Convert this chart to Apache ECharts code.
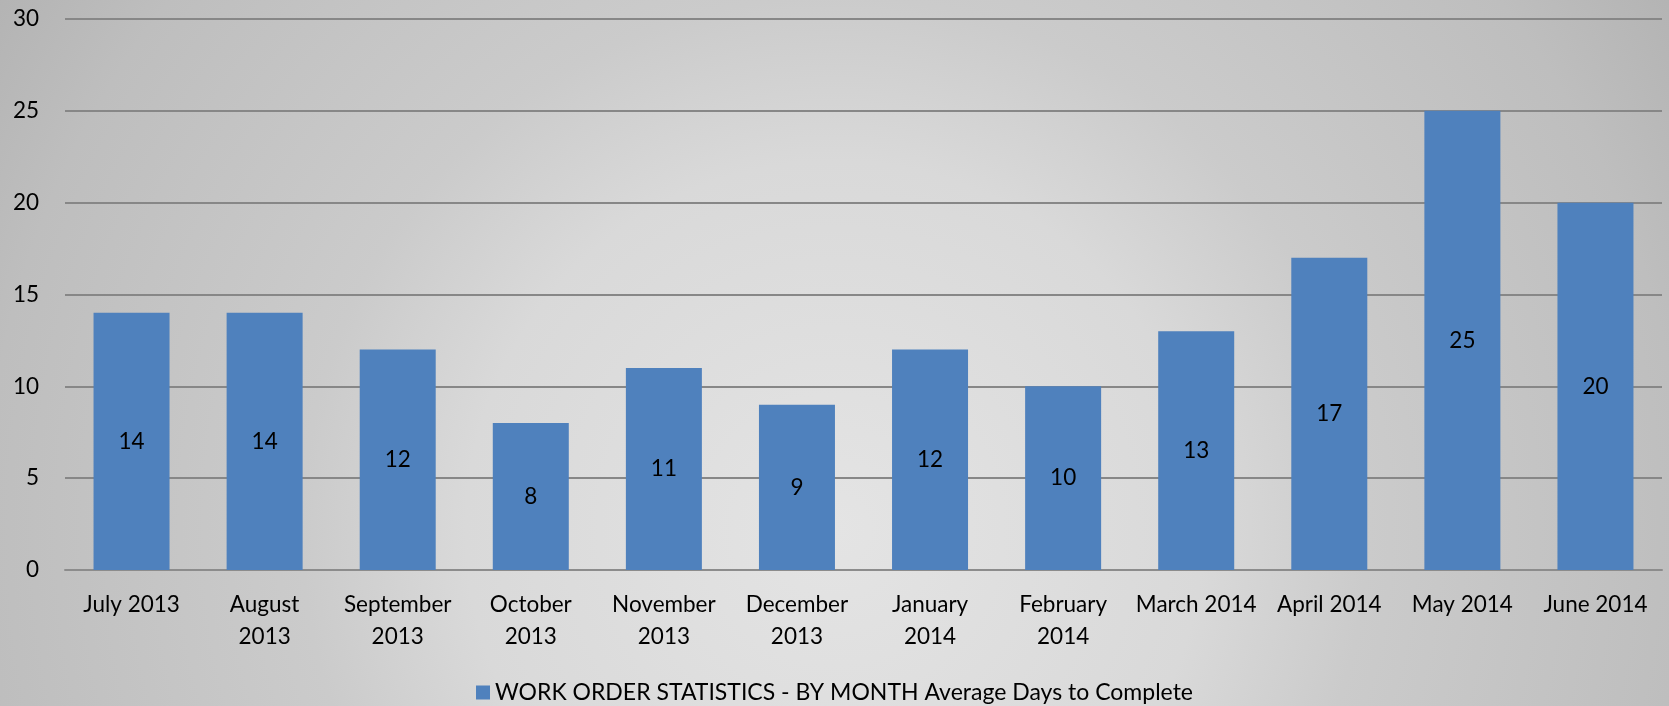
<!DOCTYPE html>
<html>
<head>
<meta charset="utf-8">
<title>Work Order Statistics</title>
<script src="https://cdn.jsdelivr.net/npm/echarts@6/dist/echarts.min.js"></script>
<style>
  html, body { margin: 0; padding: 0; }
  #chart { width: 1669px; height: 706px; }
</style>
</head>
<body>
<div id="chart"></div>
<script>
const months = [
  "July 2013", "August\n2013", "September\n2013", "October\n2013",
  "November\n2013", "December\n2013", "January\n2014", "February\n2014",
  "March 2014", "April 2014", "May 2014", "June 2014"
];
const avgDays = [14, 14, 12, 8, 11, 9, 12, 10, 13, 17, 25, 20];
const seriesName = "WORK ORDER STATISTICS - BY MONTH Average Days to Complete";

const FONT = "Lato, 'Open Sans', sans-serif";

const chart = echarts.init(document.getElementById("chart"));

chart.setOption({
  // light patch low in the middle, darker towards the corners
  backgroundColor: new echarts.graphic.RadialGradient(0.5, 0.75, 1.45, [
    { offset: 0, color: "#e4e4e4" },
    { offset: 0.36, color: "#d9d9d9" },
    { offset: 0.52, color: "#cbcbcb" },
    { offset: 0.83, color: "#bebebe" },
    { offset: 1, color: "#b1b1b1" },
  ]),
  textStyle: { fontFamily: FONT },
  grid: { left: 65, right: 7, top: 19, bottom: 136, containLabel: false },
  legend: {
    top: 681,
    left: "center",
    padding: 0,
    icon: "rect",
    itemWidth: 14,
    itemHeight: 14,
    itemGap: 6,
    data: [seriesName],
    textStyle: { color: "#000", fontSize: 23, fontFamily: FONT },
  },
  xAxis: {
    type: "category",
    data: months,
    axisTick: { show: false },
    axisLine: { lineStyle: { color: "#8c8c8c", width: 2 } },
    axisLabel: {
      color: "#000",
      fontSize: 22.5,
      lineHeight: 32,
      margin: 19,
      interval: 0,
    },
  },
  yAxis: {
    type: "value",
    min: 0,
    max: 30,
    interval: 5,
    axisLine: { show: false },
    axisTick: { show: false },
    axisLabel: { color: "#000", fontSize: 22.5, margin: 26 },
    splitLine: { lineStyle: { color: "#878787", width: 2 } },
  },
  series: [
    {
      name: seriesName,
      type: "bar",
      data: avgDays,
      barWidth: 76,
      itemStyle: { color: "#4f81bd" },
      label: {
        show: true,
        position: "inside",
        color: "#000",
        fontSize: 22.5,
        fontFamily: FONT,
      },
    },
  ],
});
</script>
</body>
</html>
